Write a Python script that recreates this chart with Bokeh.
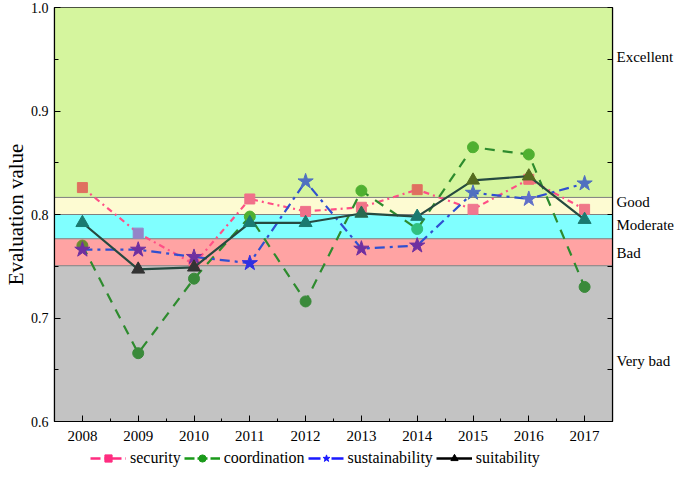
from bokeh.plotting import figure
from bokeh.layouts import column
from bokeh.models import (ColumnDataSource, BoxAnnotation, LinearAxis, FixedTicker,
                          Legend, LegendItem, Range1d, Span, PrintfTickFormatter,
                          CustomJSTickFormatter)
from bokeh.embed import file_html
from bokeh.resources import INLINE

years = [2008, 2009, 2010, 2011, 2012, 2013, 2014, 2015, 2016, 2017]
security = [0.826, 0.782, 0.752, 0.815, 0.803, 0.807, 0.824, 0.805, 0.834, 0.805]
coordination = [0.770, 0.666, 0.738, 0.798, 0.716, 0.823, 0.786, 0.865, 0.858, 0.730]
sustainability = [0.766, 0.766, 0.759, 0.753, 0.832, 0.767, 0.770, 0.821, 0.815, 0.830]
suitability = [0.792, 0.747, 0.749, 0.792, 0.792, 0.801, 0.798, 0.833, 0.837, 0.795]

band_names = ["Very bad", "Bad", "Moderate", "Good", "Excellent"]
band_edges = [0.6, 0.7505, 0.7766, 0.8, 0.8165, 1.0]
band_label_y = [0.658, 0.7625, 0.790, 0.812, 0.952]
y_ticks = [0.6, 0.7, 0.8, 0.9, 1.0]
y_minor = [0.65, 0.75, 0.85, 0.95]

band_colors = ["#c3c3c3", "#ffa3a3", "#80ffff", "#fdfbd2", "#d5f59e"]
sec_mk = ["#e07060", "#9484c8", "#f06080", "#f0708a", "#f0708a", "#f07488", "#e07060", "#f07890", "#f07078", "#f07888"]
coo_mk = ["#6b8a30", "#3a8a3a", "#3a8a3a", "#4fb030", "#3a8a3a", "#4fb030", "#30c080", "#4fb030", "#4fb030", "#3a8a3a"]
sus_mk = ["#7030a0", "#7030a0", "#7030a0", "#3030e0", "#5070c0", "#7030a0", "#7030a0", "#5070c0", "#6070c8", "#5070c0"]
sui_mk = ["#1a7a70", "#333333", "#333333", "#1a7a70", "#1a7a70", "#2a6a50", "#1a7a70", "#556b20", "#556b20", "#1a7a70"]

FONT = "Liberation Serif"

p = figure(width=676, height=448, output_backend="svg", toolbar_location=None,
           x_range=Range1d(2007.5, 2017.5), y_range=Range1d(0.6, 1.0),
           min_border_left=44, min_border_right=0, min_border_top=7, min_border_bottom=27)
p.grid.visible = False
p.outline_line_color = "black"
p.outline_line_width = 1.2
p.background_fill_color = "white"

for i, name in enumerate(band_names):
    p.add_layout(BoxAnnotation(bottom=band_edges[i], top=band_edges[i + 1],
                               fill_color=band_colors[i], fill_alpha=1.0, level="underlay"))
    if i > 0:
        p.add_layout(Span(location=band_edges[i], dimension="width", line_color="#808080",
                          line_width=1, level="underlay"))

series = [
    (security, sec_mk, "#ff4f86", "6 4 2 4", "square", 10, "security"),
    (coordination, coo_mk, "#2e8b2e", "10 8", "circle", 11, "coordination"),
    (sustainability, sus_mk, "#3050d0", "10 5 3 5", "star", 16, "sustainability"),
    (suitability, sui_mk, "#264a40", "solid", "triangle", 13, "suitability"),
]
for vals, mk, col, dash, marker, size, name in series:
    src = ColumnDataSource(dict(x=years, y=vals, c=mk))
    p.line("x", "y", source=src, line_color=col, line_width=2.2, line_dash=dash)
    p.scatter("x", "y", source=src, marker=marker, size=size, fill_color="c", line_color="c")

xa = p.xaxis[0]
xa.ticker = FixedTicker(ticks=years, minor_ticks=[y + 0.5 for y in [2007] + years])
xa.major_label_text_font = FONT
xa.major_label_text_font_size = "15px"
xa.major_tick_in = 6
xa.major_tick_out = 0
xa.minor_tick_in = 3
xa.minor_tick_out = 0
xa.major_label_standoff = 9
xa.axis_line_width = 1.2

ya = p.yaxis[0]
ya.ticker = FixedTicker(ticks=y_ticks, minor_ticks=y_minor)
ya.formatter = PrintfTickFormatter(format="%.1f")
ya.major_label_text_font = FONT
ya.major_label_text_font_size = "14px"
ya.major_tick_in = 6
ya.major_tick_out = 0
ya.minor_tick_in = 4
ya.minor_tick_out = 0
ya.major_label_standoff = 6
ya.axis_label = "Evaluation value"
ya.axis_label_text_font = FONT
ya.axis_label_text_font_size = "21px"
ya.axis_label_text_font_style = "normal"
ya.axis_label_text_color = "black"
ya.axis_label_standoff = 0
ya.axis_line_width = 1.2

ra = LinearAxis(ticker=FixedTicker(ticks=band_label_y, minor_ticks=y_ticks + y_minor),
                formatter=CustomJSTickFormatter(args=dict(names=band_names),
                                                code="return names[index];"))
ra.major_label_text_font = FONT
ra.major_label_text_font_size = "15px"
ra.major_label_text_color = "black"
ra.major_tick_in = 0
ra.major_tick_out = 0
ra.minor_tick_in = 5
ra.minor_tick_out = 0
ra.major_label_standoff = 4
ra.axis_line_width = 1.2
p.add_layout(ra, "right")

for ax in (xa, ya):
    ax.major_label_text_color = "black"

# legend strip
lg = figure(width=676, height=20, output_backend="svg", toolbar_location=None,
            x_range=Range1d(0, 1), y_range=Range1d(0, 1), min_border=0)
lg.axis.visible = False
lg.grid.visible = False
lg.outline_line_color = None
legend_colors = ["#ff2d80", "#1a9a1a", "#1a1aff", "#000000"]
legend_dashes = ["10 4 3 4", "10 3", "12 4 3 4", "solid"]
legend_sizes = [10, 10, 14, 11]
items = []
for k, (vals, mk, col, dash, marker, size, name) in enumerate(series):
    lp = lg.line([0.5], [0.5], line_color=legend_colors[k], line_width=2.5,
                 line_dash=legend_dashes[k], visible=False)
    sp = lg.scatter([0.5], [0.5], marker=marker, size=legend_sizes[k],
                    fill_color=legend_colors[k], line_color=legend_colors[k], visible=False)
    items.append(LegendItem(label=name, renderers=[lp, sp]))
legend = Legend(items=items, orientation="horizontal", label_text_font=FONT,
                label_text_font_size="16px", label_text_color="black",
                border_line_color=None, background_fill_alpha=0,
                spacing=3, padding=0, margin=0, glyph_width=36, glyph_height=18,
                label_standoff=4, label_height=18, location=(36, 1))
lg.add_layout(legend, "center")

layout = column(p, lg, spacing=0)
open("out.html", "w").write(file_html(layout, INLINE))
